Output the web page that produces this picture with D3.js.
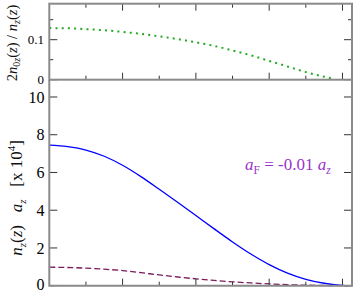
<!DOCTYPE html>
<html>
<head>
<meta charset="utf-8">
<script src="https://cdn.jsdelivr.net/npm/d3@7"></script>
<style>
  body { margin: 0; background: #fff; }
  svg { display: block; }
</style>
</head>
<body>
<div id="chart"></div>
<script>
// data
var ratioX = [0, 0.25, 0.5, 0.75, 1.0, 1.25, 1.5, 1.75, 2.0, 2.25, 2.5, 2.75, 3.0, 3.25, 3.5, 3.75, 3.86]
var ratioY = [0.129, 0.1285, 0.1265, 0.1235, 0.1195, 0.1145, 0.1085, 0.1015, 0.0935, 0.0845, 0.073, 0.061, 0.047, 0.033, 0.019, 0.0075, 0.003]

var densX = [0, 0.25, 0.5, 0.75, 1.0, 1.25, 1.5, 1.75, 2.0, 2.25, 2.5, 2.75, 3.0, 3.25, 3.5, 3.75, 4.0, 4.08]
var blueY = [7.45, 7.37, 7.19, 6.86, 6.38, 5.78, 5.11, 4.42, 3.72, 3.01, 2.32, 1.68, 1.12, 0.67, 0.34, 0.13, 0.02, 0]

var fermiX = [0, 0.25, 0.5, 0.75, 1.0, 1.25, 1.5, 1.75, 2.0, 2.25, 2.5, 2.75, 3.0, 3.25, 3.5, 3.75, 4.0, 4.13]
var fermiY = [0.98, 0.965, 0.93, 0.875, 0.80, 0.69, 0.57, 0.46, 0.365, 0.28, 0.205, 0.145, 0.095, 0.055, 0.027, 0.01, 0.002, 0]

var xTicks = [0.5, 1, 1.5, 2, 2.5, 3, 3.5, 4]
var topMajor = [0, 0.1]
var topMinor = [0.05, 0.15]
var botMajor = [0, 2, 4, 6, 8, 10]

var W = 354, H = 292
var svg = d3.select('#chart').append('svg').attr('width', W).attr('height', H)

var x = d3.scaleLinear().domain([0, 4.13]).range([49.3, 352])
var yTop = d3.scaleLinear().domain([0, 0.19]).range([79.7, 3.7])
var yBot = d3.scaleLinear().domain([0, 10.9]).range([285.7, 80])

var axisCol = '#8a8a8a', tickCol = '#333'
var serif = 'Liberation Serif'

function zip(xs, ys) { return xs.map(function(v, i){ return [v, ys[i]] }) }

// Curves
// ------
var lineTop = d3.line().x(function(d){ return x(d[0]) }).y(function(d){ return yTop(d[1]) }).curve(d3.curveMonotoneX)
var lineBot = d3.line().x(function(d){ return x(d[0]) }).y(function(d){ return yBot(d[1]) }).curve(d3.curveMonotoneX)

svg.append('path').datum(zip(ratioX, ratioY))
  .attr('d', lineTop).attr('fill', 'none')
  .attr('stroke', '#22aa22').attr('stroke-width', 2).attr('stroke-dasharray', '2,4.2')

svg.append('path').datum(zip(fermiX, fermiY))
  .attr('d', lineBot).attr('fill', 'none')
  .attr('stroke', '#7a1a5a').attr('stroke-width', 1.3).attr('stroke-dasharray', '6,3')

svg.append('path').datum(zip(densX, blueY))
  .attr('d', lineBot).attr('fill', 'none')
  .attr('stroke', '#0000ff').attr('stroke-width', 1.3)

// Ticks
// -----
function xTickMarks(y0, dir) {
  svg.selectAll(null).data(xTicks).enter().append('line')
    .attr('x1', function(d){ return x(d) }).attr('x2', function(d){ return x(d) })
    .attr('y1', y0)
    .attr('y2', function(d){ return y0 + dir * (d % 1 === 0 ? 7 : 4) })
    .attr('stroke', tickCol).attr('stroke-width', 1)
}
xTickMarks(yTop.range()[1], 1)
xTickMarks(yTop.range()[0], -1)
xTickMarks(yBot.range()[0], -1)

function yTickMarks(scale, vals, len) {
  ;[[x.range()[0], 1], [x.range()[1], -1]].forEach(function(s){
    svg.selectAll(null).data(vals).enter().append('line')
      .attr('x1', s[0]).attr('x2', s[0] + s[1] * len)
      .attr('y1', function(d){ return scale(d) }).attr('y2', function(d){ return scale(d) })
      .attr('stroke', tickCol).attr('stroke-width', 1)
  })
}
yTickMarks(yTop, topMajor, 8)
yTickMarks(yTop, topMinor, 4)
yTickMarks(yBot, botMajor, 8)

// Frames
// ------
var x0 = x.range()[0], x1 = x.range()[1]
svg.append('rect')
  .attr('x', x0).attr('y', yTop.range()[1])
  .attr('width', x1 - x0).attr('height', yTop.range()[0] - yTop.range()[1])
  .attr('fill', 'none').attr('stroke', axisCol).attr('stroke-width', 2)
svg.append('path')
  .attr('d', 'M' + x0 + ',' + yBot.range()[1] + 'V' + yBot.range()[0] + 'H' + x1 + 'V' + yBot.range()[1])
  .attr('fill', 'none').attr('stroke', axisCol).attr('stroke-width', 2)

// Tick labels
// -----------
svg.selectAll(null).data(topMajor).enter().append('text')
  .attr('x', 44).attr('y', function(d){ return yTop(d) })
  .attr('dy', '0.35em').attr('text-anchor', 'end').attr('font-family', serif)
  .style('font-size', '13px').text(function(d){ return d === 0 ? '0' : d3.format('.1f')(d) })

svg.selectAll(null).data(botMajor).enter().append('text')
  .attr('x', 44.5).attr('y', function(d){ return d === 0 ? yBot(d) - 1.5 : yBot(d) })
  .attr('dy', '0.35em').attr('text-anchor', 'end').attr('font-family', serif)
  .style('font-size', '16px').text(function(d){ return d })

// Axis titles
// -----------
function addRich(g, parts) {
  parts.forEach(function(p){
    var t = g.append('tspan').text(p.t)
    if (p.i) t.style('font-style', 'italic')
    if (p.s) t.style('font-size', p.s)
    if (p.dy) t.attr('dy', p.dy)
  })
}

var tTop = svg.append('text')
  .attr('transform', 'translate(17,43) rotate(-90)').attr('font-family', serif)
  .attr('text-anchor', 'middle').style('font-size', '14.5px').style('fill', '#111')
addRich(tTop, [
  {t: '2'}, {t: 'n', i: 1},
  {t: '0', s: '10px', dy: 3}, {t: 'z', s: '10px', i: 1},
  {t: '(', dy: -3}, {t: 'z', i: 1}, {t: ') / '}, {t: 'n', i: 1},
  {t: 'z', s: '10px', i: 1, dy: 3}, {t: '(', dy: -3}, {t: 'z', i: 1}, {t: ')'}
])

var tBot = svg.append('text')
  .attr('transform', 'translate(22,198) rotate(-90)').attr('font-family', serif)
  .attr('text-anchor', 'middle').style('font-size', '17px').style('fill', '#111')
addRich(tBot, [
  {t: 'n', i: 1}, {t: 'z', s: '11px', i: 1, dy: 4}, {t: '(', dy: -4}, {t: 'z', i: 1}, {t: ')\u2002 '},
  {t: 'a', i: 1}, {t: 'z', s: '11px', i: 1, dy: 4}, {t: '\u2002 [x 10', dy: -4},
  {t: '4', s: '11px', dy: -7}, {t: ']', dy: 7}
])

// Annotation
// ----------
var ann = svg.append('text')
  .attr('x', 245).attr('y', 170).attr('font-family', serif)
  .style('font-size', '17px').style('fill', '#9933cc')
addRich(ann, [
  {t: 'a', i: 1}, {t: 'F', s: '11.5px', dy: 4}, {t: ' = -0.01 ', dy: -4},
  {t: 'a', i: 1}, {t: 'z', s: '11.5px', i: 1, dy: 4}
])
</script>
</body>
</html>
